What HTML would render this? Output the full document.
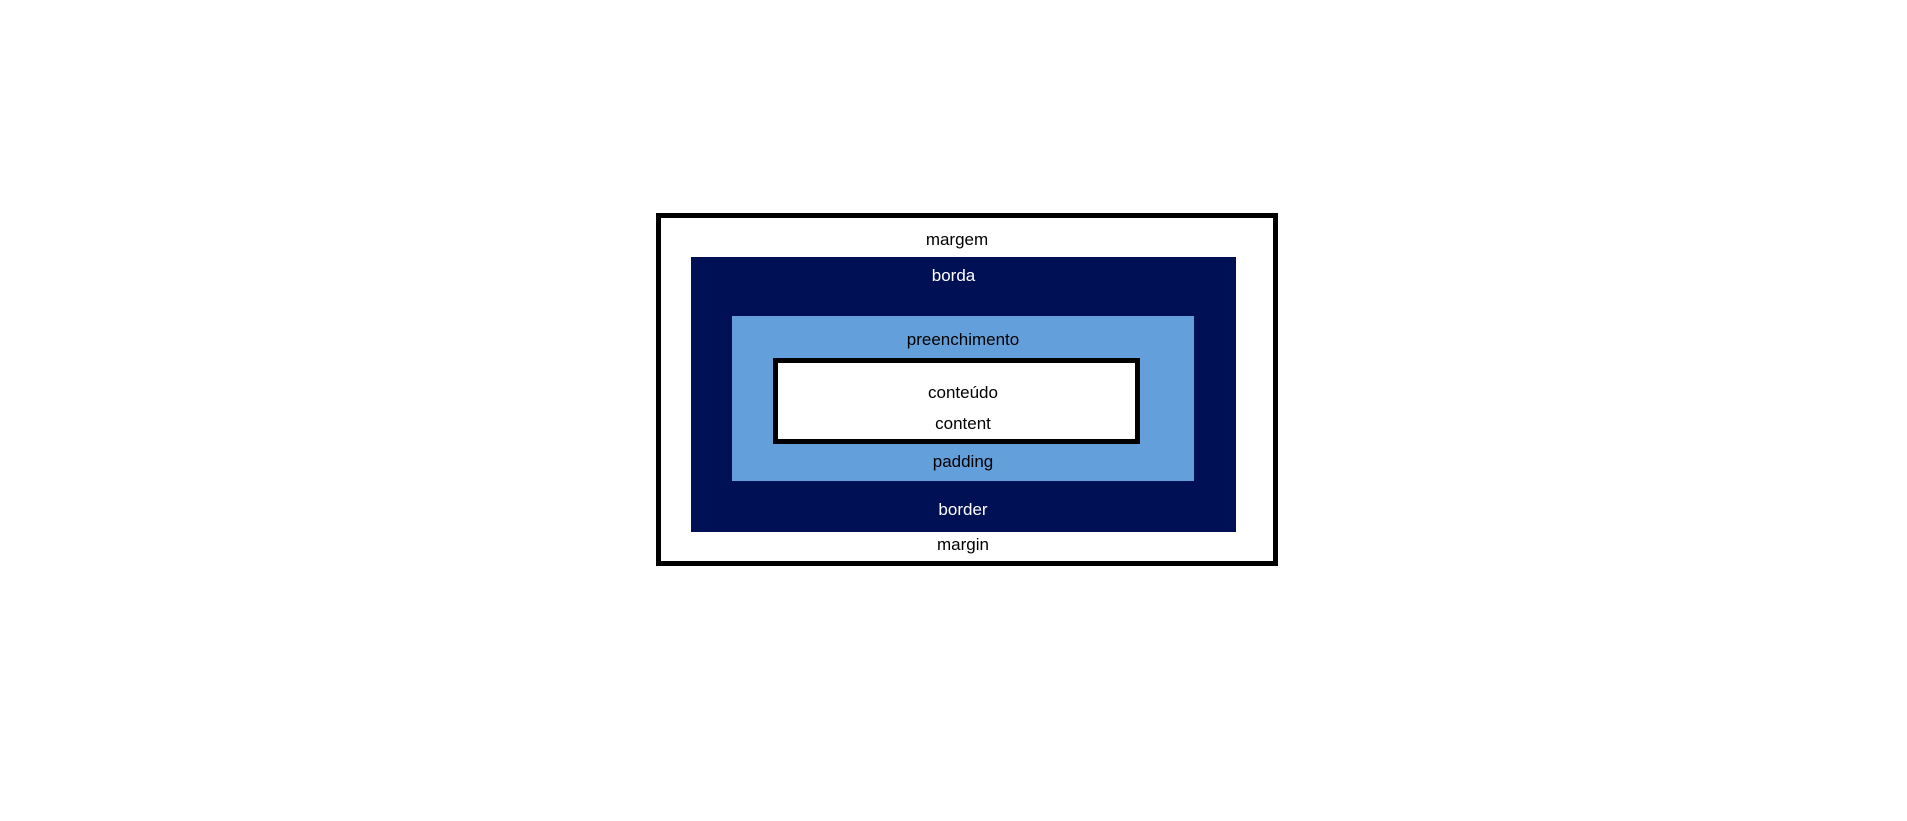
<!DOCTYPE html>
<html><head><meta charset="utf-8"><style>
html,body{margin:0;padding:0;background:#fff;width:1907px;height:821px;overflow:hidden;position:relative;font-family:"Liberation Sans",Arial,sans-serif;}
.b{position:absolute;box-sizing:border-box;}
.t{position:absolute;left:0;width:1926px;text-align:center;font-size:17px;line-height:20px;}
</style></head><body>
<div class="b" style="left:656px;top:213px;width:622px;height:353px;border:5px solid #000;"></div>
<div class="b" style="left:691px;top:257px;width:545px;height:275px;background:#001054;"></div>
<div class="b" style="left:732px;top:316px;width:462px;height:165px;background:#639fdb;"></div>
<div class="b" style="left:773px;top:358px;width:367px;height:86px;border:5px solid #000;background:#fff;"></div>
<div class="t" style="top:230px;color:#000;width:1914px;">margem</div>
<div class="t" style="top:266px;color:#fff;width:1907px;">borda</div>
<div class="t" style="top:330px;color:#000;">preenchimento</div>
<div class="t" style="top:383px;color:#000;">conteúdo</div>
<div class="t" style="top:414px;color:#000;">content</div>
<div class="t" style="top:452px;color:#000;">padding</div>
<div class="t" style="top:500px;color:#fff;">border</div>
<div class="t" style="top:535px;color:#000;">margin</div>
</body></html>
